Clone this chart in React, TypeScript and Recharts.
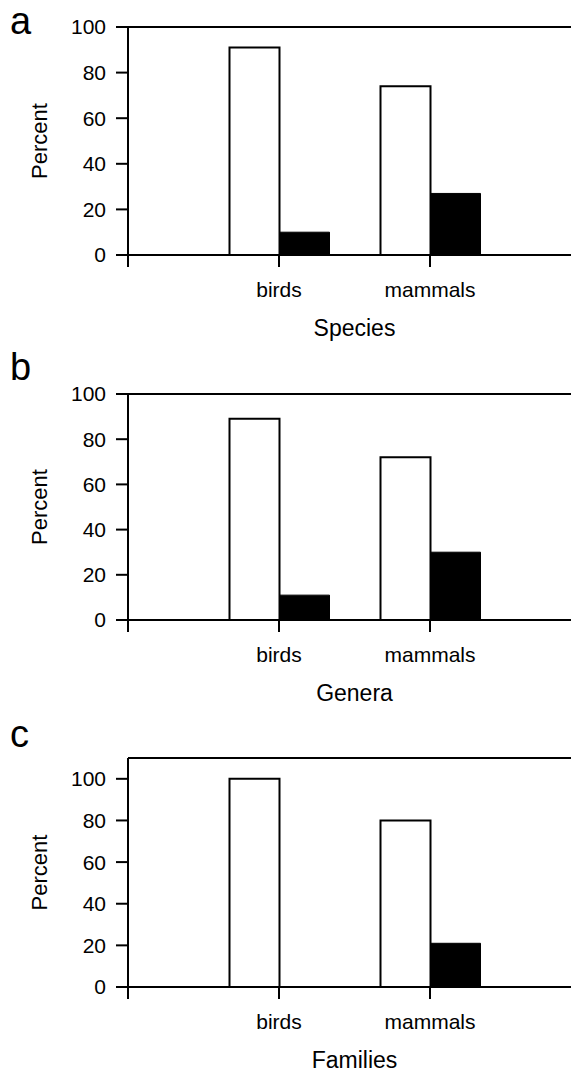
import React from 'react';
import { BarChart, Bar, XAxis, YAxis, ReferenceLine } from 'recharts';

const categories = ['birds', 'mammals'];
const xTickLabels = ['', 'birds', 'mammals', ''];
const xTickPositions = [0, 1, 2, 3];
const yTicks = [0, 20, 40, 60, 80, 100];

const speciesOpen = [91, 74];
const speciesFilled = [10, 27];
const generaOpen = [89, 72];
const generaFilled = [11, 30];
const familiesOpen = [100, 80];
const familiesFilled = [0, 21];

const panelLetters = ['a', 'b', 'c'];
const axisTitles = ['Species', 'Genera', 'Families'];
const yMaxes = [100, 100, 110];

const FONT = '"Liberation Sans", Arial, Helvetica, sans-serif';

const panels = [
  { open: speciesOpen, filled: speciesFilled, top: 0, marginTop: 27, plotHeight: 228, letterTop: 0 },
  { open: generaOpen, filled: generaFilled, top: 360, marginTop: 34, plotHeight: 226, letterTop: -14 },
  { open: familiesOpen, filled: familiesFilled, top: 720, marginTop: 38, plotHeight: 229, letterTop: -7 },
];

function Panel({ idx }: { idx: number }) {
  const p = panels[idx];
  const data = categories.map((c, i) => ({ pos: i + 1, name: c, open: p.open[i], filled: p.filled[i] }));
  const xAxisHeight = 90;
  const height = p.marginTop + p.plotHeight + xAxisHeight;
  const yMax = yMaxes[idx];
  return (
    <div style={{ position: 'absolute', left: 0, top: p.top, width: 571, height }}>
      <div
        style={{
          position: 'absolute',
          left: 10,
          top: p.letterTop,
          fontFamily: FONT,
          fontSize: 38,
          lineHeight: '43px',
          color: '#000',
        }}
      >
        {panelLetters[idx]}
      </div>
      <BarChart
        width={600}
        height={height}
        data={data}
        margin={{ top: p.marginTop, right: 19, bottom: 0, left: 0 }}
        barGap={0}
        style={{ fontFamily: FONT }}
      >
        <XAxis
          dataKey="pos"
          type="number"
          domain={[0, 3]}
          ticks={xTickPositions}
          interval={0}
          tickFormatter={(v: number) => xTickLabels[v] ?? ''}
          tickSize={12}
          tickMargin={15}
          height={xAxisHeight}
          axisLine={{ stroke: '#000', strokeWidth: 2 }}
          tickLine={{ stroke: '#000', strokeWidth: 2 }}
          tick={{ fill: '#000', fontSize: 21, fontFamily: FONT }}
          label={{ value: axisTitles[idx], position: 'insideBottom', offset: 9, fill: '#000', fontSize: 23, fontFamily: FONT }}
        />
        <YAxis
          type="number"
          domain={[0, yMax]}
          ticks={yTicks}
          interval={0}
          width={128}
          tickSize={12}
          tickMargin={10}
          axisLine={{ stroke: '#000', strokeWidth: 2 }}
          tickLine={{ stroke: '#000', strokeWidth: 2 }}
          tick={{ fill: '#000', fontSize: 21, fontFamily: FONT }}
          label={{
            content: (props: any) => {
              const vb = props.viewBox || {};
              const x = (vb.x ?? 0) + 47;
              const y = (vb.y ?? 0) + (vb.height ?? 0) / 2;
              return (
                <text
                  x={x}
                  y={y}
                  transform={`rotate(-90, ${x}, ${y})`}
                  textAnchor="middle"
                  fill="#000"
                  fontSize={22}
                  fontFamily={FONT}
                >
                  Percent
                </text>
              );
            },
          }}
        />
        <ReferenceLine y={yMax} stroke="#000" strokeWidth={2} ifOverflow="extendDomain" />
        <Bar dataKey="open" fill="#fff" stroke="#000" strokeWidth={2} barSize={50} isAnimationActive={false} />
        <Bar dataKey="filled" fill="#000" stroke="#000" strokeWidth={1} barSize={50} isAnimationActive={false} />
      </BarChart>
    </div>
  );
}

export default function App() {
  return (
    <div
      style={{
        position: 'absolute',
        left: 0,
        top: 0,
        width: 571,
        height: 1074,
        overflow: 'hidden',
        background: '#fff',
      }}
    >
      <Panel idx={0} />
      <Panel idx={1} />
      <Panel idx={2} />
    </div>
  );
}
